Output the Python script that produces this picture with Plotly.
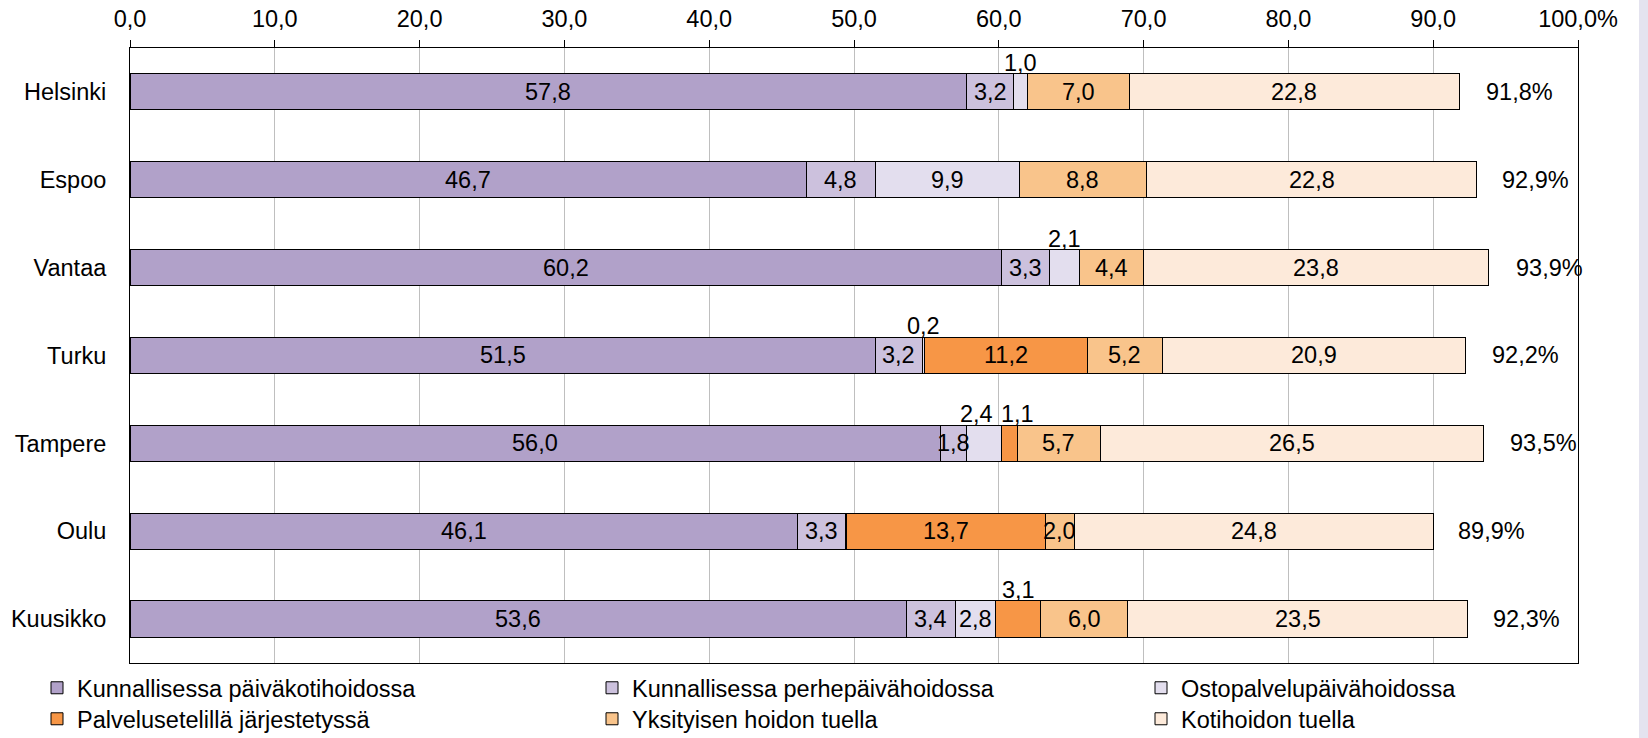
import plotly.graph_objects as go

cities = ["Helsinki", "Espoo", "Vantaa", "Turku", "Tampere", "Oulu", "Kuusikko"]
series_names = [
    "Kunnallisessa päiväkotihoidossa",
    "Kunnallisessa perhepäivähoidossa",
    "Ostopalvelupäivähoidossa",
    "Palvelusetelillä järjestetyssä",
    "Yksityisen hoidon tuella",
    "Kotihoidon tuella",
]
paivakoti = [57.8, 46.7, 60.2, 51.5, 56.0, 46.1, 53.6]
perhepaiva = [3.2, 4.8, 3.3, 3.2, 1.8, 3.3, 3.4]
ostopalvelu = [1.0, 9.9, 2.1, 0.2, 2.4, 0.1, 2.8]
palveluseteli = [0.0, 0.0, 0.0, 11.2, 1.1, 13.7, 3.1]
yksityinen = [7.0, 8.8, 4.4, 5.2, 5.7, 2.0, 6.0]
kotihoito = [22.8, 22.8, 23.8, 20.9, 26.5, 24.8, 23.5]
totals = [91.8, 92.9, 93.9, 92.2, 93.5, 89.9, 92.3]
tick_vals = [0, 10, 20, 30, 40, 50, 60, 70, 80, 90, 100]
tick_text = ["0,0", "10,0", "20,0", "30,0", "40,0", "50,0", "60,0", "70,0", "80,0", "90,0", "100,0%"]

series = [paivakoti, perhepaiva, ostopalvelu, palveluseteli, yksityinen, kotihoito]
colors = ["#B1A1C9", "#CCC1DD", "#E3DEEE", "#F79646", "#F9C48B", "#FDEADA"]

# labels lifted above the bar (city index, series index) -> horizontal nudge in px
above = {(0, 2): 0, (2, 2): 0, (3, 2): 0, (4, 2): -8, (4, 3): 8, (6, 3): 0}
# labels not shown
hidden = {(5, 2)}

def fmt(v):
    return f"{v:.1f}".replace(".", ",")

FONT = "Liberation Sans, Arial, sans-serif"
FS = 23.5
W, H = 1648, 738
L, R, T, B = 130, 70, 48, 75
PW = W - L - R
PH = H - T - B

legend_names = ["legend", "legend2", "legend3", "legend4", "legend5", "legend6"]
legend_cols = [37, 592, 1141]
legend_rows = [666, 697]

fig = go.Figure()
for si, (name, vals, col) in enumerate(zip(series_names, series, colors)):
    fig.add_trace(go.Bar(
        y=cities, x=vals, name=name, orientation="h",
        marker=dict(color=col, line=dict(color="#000000", width=1)),
        width=0.41, hoverinfo="skip", legend=legend_names[si],
    ))

annotations = []
for ci, city in enumerate(cities):
    base = 0.0
    for si, vals in enumerate(series):
        v = vals[ci]
        mid = base + v / 2
        base += v
        if v <= 0 or (ci, si) in hidden:
            continue
        lifted = (ci, si) in above
        annotations.append(dict(
            x=mid, y=city, xref="x", yref="y", text=fmt(v), showarrow=False,
            yshift=29 if lifted else 0, xshift=above.get((ci, si), 0),
            font=dict(size=FS, color="#000000", family=FONT),
        ))
    annotations.append(dict(
        x=totals[ci], y=city, xref="x", yref="y", text=fmt(totals[ci]) + "%",
        showarrow=False, xshift=60, font=dict(size=FS, color="#000000", family=FONT),
    ))

legends = {}
for i, lname in enumerate(legend_names):
    px = legend_cols[i % 3]
    py = legend_rows[i // 3]
    legends[lname] = dict(
        orientation="v", xref="container", yref="container",
        x=px / W, xanchor="left", y=1 - py / H, yanchor="top",
        font=dict(size=23.5, color="#000000", family=FONT),
        bgcolor="rgba(0,0,0,0)",
    )

fig.update_layout(
    barmode="stack",
    width=W, height=H,
    margin=dict(l=L, r=R, t=T, b=B, autoexpand=False),
    paper_bgcolor="#FFFFFF", plot_bgcolor="#FFFFFF",
    font=dict(family=FONT, size=FS, color="#000000"),
    annotations=annotations,
    showlegend=True,
    shapes=[dict(
        type="rect", xref="paper", yref="paper",
        x0=(1639 - L) / PW, x1=1.2, y0=-0.3, y1=1.2,
        fillcolor="#E4E3EF", line=dict(width=0), layer="below",
    )],
    xaxis=dict(
        range=[0, 100], side="top", tickvals=tick_vals, ticktext=tick_text,
        showgrid=True, gridcolor="#BFBFBF", gridwidth=1,
        showline=True, linecolor="#000000", linewidth=1, mirror=True,
        ticks="outside", ticklen=7, tickcolor="#000000",
        zeroline=False, tickfont=dict(size=FS), fixedrange=True,
        ticklabelstandoff=4, automargin=False,
    ),
    yaxis=dict(
        autorange="reversed", showline=True, linecolor="#000000", linewidth=1,
        mirror=True, ticks="", showgrid=False, tickfont=dict(size=FS),
        ticklabelstandoff=18, fixedrange=True, automargin=False,
    ),
    **legends,
)

fig.write_html(
    "out.html",
    config={"displayModeBar": False},
    post_script="document.body.style.margin='0';document.body.style.overflow='hidden';",
)
